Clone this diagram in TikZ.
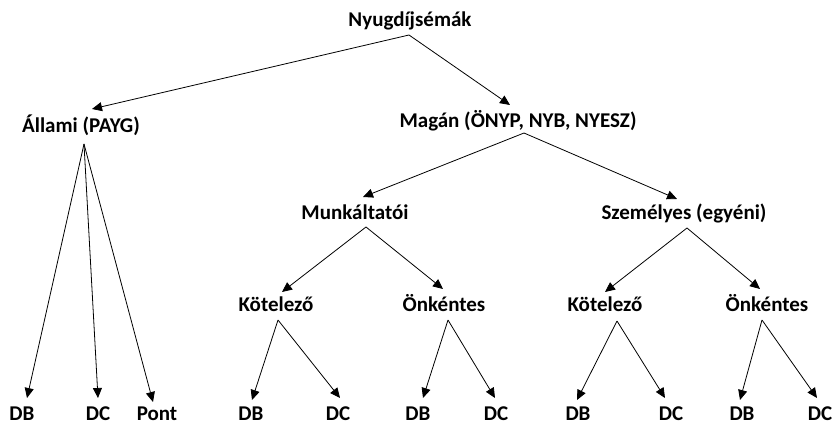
\documentclass[tikz,border=0pt]{standalone}
\usepackage{fontspec}
\setmainfont{Carlito}
\usetikzlibrary{arrows.meta}
\begin{document}
\begin{tikzpicture}[x=1pt,y=-1pt,
  lbl/.style={anchor=base,inner sep=0pt,font=\fontsize{21}{25}\selectfont\bfseries},
  arr/.style={-{Triangle[length=10pt,width=9pt]},line width=0.8pt}]
\useasboundingbox (0,0) rectangle (833,425);
% tree levels
\node[lbl] (ny) at (410,27) {Nyugdíjsémák};
\node[lbl] (al) at (81,133) {Állami (PAYG)};
\node[lbl] (ma) at (518,128) {Magán (ÖNYP, NYB, NYESZ)};
\node[lbl] (mu) at (355,219) {Munkáltatói};
\node[lbl] (sz) at (684,219) {Személyes (egyéni)};
\node[lbl] (k1) at (276,311) {Kötelező};
\node[lbl] (o1) at (444,311) {Önkéntes};
\node[lbl] (k2) at (605,311) {Kötelező};
\node[lbl] (o2) at (767,311) {Önkéntes};
% leaves
\node[lbl] (l1) at (22,420) {DB};
\node[lbl] (l2) at (98,420) {DC};
\node[lbl] (l3) at (157,420) {Pont};
\node[lbl] (l4) at (251,420) {DB};
\node[lbl] (l5) at (338,420) {DC};
\node[lbl] (l6) at (418,420) {DB};
\node[lbl] (l7) at (496,420) {DC};
\node[lbl] (l8) at (578,420) {DB};
\node[lbl] (l9) at (671,420) {DC};
\node[lbl] (l10) at (742,420) {DB};
\node[lbl] (l11) at (820,420) {DC};
% connectors
\draw[arr] ([shift={(-1,8)}]ny.base) -- ([shift={(11,-24)}]al.base);
\draw[arr] ([shift={(-1,8)}]ny.base) -- ([shift={(-8,-23)}]ma.base);
\draw[arr] ([shift={(3,11)}]al.base) -- ([shift={(5,-22)}]l1.base);
\draw[arr] ([shift={(3,11)}]al.base) -- ([shift={(0,-22)}]l2.base);
\draw[arr] ([shift={(3,11)}]al.base) -- ([shift={(-4,-18)}]l3.base);
\draw[arr] ([shift={(6,5)}]ma.base) -- ([shift={(8,-22)}]mu.base);
\draw[arr] ([shift={(6,5)}]ma.base) -- ([shift={(-7,-20)}]sz.base);
\draw[arr] ([shift={(11,8)}]mu.base) -- ([shift={(6,-19)}]k1.base);
\draw[arr] ([shift={(11,8)}]mu.base) -- ([shift={(-1,-22)}]o1.base);
\draw[arr] ([shift={(3,9)}]sz.base) -- ([shift={(0,-19)}]k2.base);
\draw[arr] ([shift={(3,9)}]sz.base) -- ([shift={(-7,-22)}]o2.base);
\draw[arr] ([shift={(2,9)}]k1.base) -- ([shift={(1,-20)}]l4.base);
\draw[arr] ([shift={(2,9)}]k1.base) -- ([shift={(2,-22)}]l5.base);
\draw[arr] ([shift={(4,9)}]o1.base) -- ([shift={(5,-22)}]l6.base);
\draw[arr] ([shift={(4,9)}]o1.base) -- ([shift={(-1,-22)}]l7.base);
\draw[arr] ([shift={(12,10)}]k2.base) -- ([shift={(-1,-20)}]l8.base);
\draw[arr] ([shift={(12,10)}]k2.base) -- ([shift={(-6,-22)}]l9.base);
\draw[arr] ([shift={(-5,9)}]o2.base) -- ([shift={(-2,-20)}]l10.base);
\draw[arr] ([shift={(-5,9)}]o2.base) -- ([shift={(-3,-22)}]l11.base);
\end{tikzpicture}
\end{document}
